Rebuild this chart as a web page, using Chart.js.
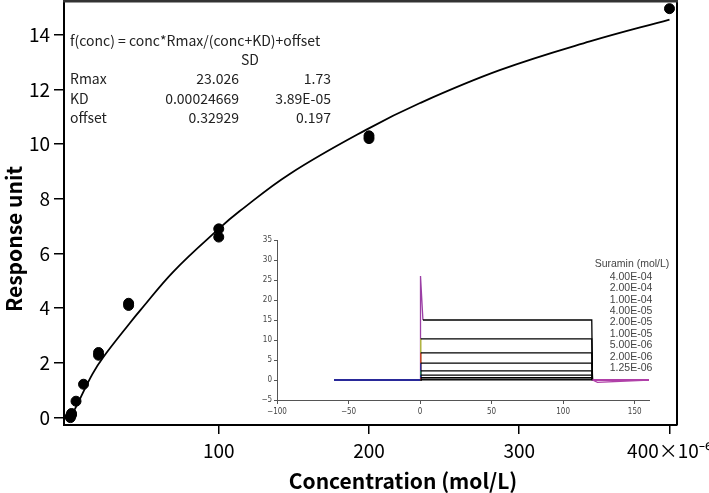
<!DOCTYPE html>
<html>
<head>
<meta charset="utf-8">
<script src="https://cdn.jsdelivr.net/npm/chart.js@4.4.1/dist/chart.umd.min.js"></script>
<style>
  body { margin: 0; background: #fff; }
  #wrap { position: relative; width: 709px; height: 493px; }
  #mainChart { position: absolute; left: 0; top: 0; }
  #insetChart { position: absolute; left: 245px; top: 228px; }
</style>
</head>
<body>
<div id="wrap">
  <canvas id="mainChart" width="709" height="493"></canvas>
  <canvas id="insetChart" width="430" height="195"></canvas>
</div>
<script>
// Binding data, concentrations in umol/L (axis shows x10^-6)
const pointConc = [1.25, 1.25, 2, 2, 5, 10, 20, 20, 40, 40, 100, 100, 200, 200, 400];
const pointResp = [0.0, 0.05, 0.1, 0.15, 0.6, 1.22, 2.38, 2.28, 4.18, 4.1, 6.9, 6.6, 10.3, 10.2, 14.95];

// Fitted curve
const fitConc = [1, 7.5, 16, 23, 41, 48, 70, 100, 114, 147, 198, 234, 287, 347, 400];
const fitResp = [-0.05, 0.67, 1.6, 2.2, 3.47, 3.94, 5.35, 6.9, 7.55, 8.9, 10.52, 11.5, 12.7, 13.75, 14.55];

const xTicks = [100, 200, 300, 400];
const yTicks = [0, 2, 4, 6, 8, 10, 12, 14];

const fitEquation = 'f(conc) = conc*Rmax/(conc+KD)+offset';
const fitParamNames = ['Rmax', 'KD', 'offset'];
const fitParamValues = ['23.026', '0.00024669', '0.32929'];
const fitParamSD = ['1.73', '3.89E-05', '0.197'];

// Inset sensorgrams
const suraminLabels = ['4.00E-04', '2.00E-04', '1.00E-04', '4.00E-05', '2.00E-05', '1.00E-05', '5.00E-06', '2.00E-06', '1.25E-06'];
const sensorTime = [
  [-60, 0, 0.3, 2, 120, 120.5, 124, 160],
  [-60, 0, 0.5, 120, 120.5, 160],
  [-60, 0, 0.5, 120, 120.5, 160],
  [-60, 0, 0.5, 120, 120.5, 160],
  [-60, 0, 0.5, 120, 120.5, 160],
  [-60, 0, 0.5, 120, 120.5, 160],
  [-60, 0, 0.5, 120, 120.5, 160],
  [-60, 0, 0.5, 120, 120.5, 160],
  [-60, 0, 0.5, 120, 120.5, 160]
];
const sensorResp = [
  [0, 0, 26, 15, 15, 0, -0.6, 0],
  [0, 0, 10.3, 10.3, 0, 0],
  [0, 0, 6.8, 6.8, 0, 0],
  [0, 0, 4.2, 4.2, 0, 0],
  [0, 0, 2.3, 2.3, 0, 0],
  [0, 0, 1.2, 1.2, 0, 0],
  [0, 0, 0.6, 0.6, 0, 0],
  [0, 0, 0.2, 0.2, 0, 0],
  [0, 0, 0.05, 0.05, 0, 0]
];
const insetXTicks = [-100, -50, 0, 50, 100, 150];
const insetYTicks = [-5, 0, 5, 10, 15, 20, 25, 30, 35];

const edgeColors = ['#9b3fa5', '#b5c832', '#c83232', '#1f2fa8', '#2e8b57', '#1f2fa8', '#c83232', '#333333', '#333333'];
const FONT = '"Noto Sans CJK JP", "Noto Sans", sans-serif';

function toPoints(xs, ys) {
  return xs.map((x, i) => ({ x, y: ys[i] }));
}

const frameAndText = {
  id: 'frameAndText',
  afterDraw(chart) {
    const { ctx, chartArea: a } = chart;
    ctx.save();
    ctx.strokeStyle = '#000';
    ctx.lineWidth = 2;
    ctx.beginPath();
    ctx.moveTo(a.right, a.top);
    ctx.lineTo(a.right, a.bottom);
    ctx.stroke();
    ctx.strokeStyle = '#333';
    ctx.lineWidth = 3;
    ctx.beginPath();
    ctx.moveTo(a.left - 1, a.top);
    ctx.lineTo(a.right + 1, a.top);
    ctx.stroke();

    // fit annotation
    ctx.fillStyle = '#222';
    ctx.font = '14px ' + FONT;
    ctx.textBaseline = 'middle';
    ctx.textAlign = 'left';
    ctx.fillText(fitEquation, 70, 41);
    ctx.textAlign = 'center';
    ctx.fillText('SD', 250, 60);
    fitParamNames.forEach((name, i) => {
      const y = 79 + i * 19.3;
      ctx.textAlign = 'left';
      ctx.fillText(name, 70, y);
      ctx.textAlign = 'right';
      ctx.fillText(fitParamValues[i], 239, y);
      ctx.fillText(fitParamSD[i], 331, y);
    });

    // axis titles
    ctx.fillStyle = '#000';
    ctx.font = 'bold 21px ' + FONT;
    ctx.textAlign = 'center';
    ctx.fillText('Concentration (mol/L)', 403, 481);
    ctx.translate(14, 239);
    ctx.rotate(-Math.PI / 2);
    ctx.fillText('Response unit', 0, 0);
    ctx.restore();
  }
};

new Chart(document.getElementById('mainChart'), {
  type: 'scatter',
  data: {
    datasets: [
      {
        data: toPoints(fitConc, fitResp),
        showLine: true,
        borderColor: '#000',
        borderWidth: 1.8,
        pointRadius: 0,
        tension: 0.4
      },
      {
        data: toPoints(pointConc, pointResp),
        backgroundColor: '#000',
        borderColor: '#000',
        pointRadius: 5,
        pointHoverRadius: 5,
        clip: false
      }
    ]
  },
  options: {
    responsive: false,
    devicePixelRatio: 1,
    animation: false,
    layout: { autoPadding: false, padding: { left: 0, right: 32, top: 1, bottom: 0 } },
    plugins: { legend: { display: false }, tooltip: { enabled: false } },
    scales: {
      x: {
        type: 'linear',
        min: -3,
        max: 405,
        afterBuildTicks: (axis) => { axis.ticks = xTicks.map(v => ({ value: v })); },
        afterFit: (axis) => { axis.height = 68; axis.paddingLeft = 0; axis.paddingRight = 0; },
        grid: { drawOnChartArea: false, tickLength: 9, color: '#000', lineWidth: 1.5 },
        border: { color: '#000', width: 2 },
        ticks: {
          color: '#000',
          font: { family: FONT, size: 19 },
          padding: 5,
          maxRotation: 0,
          callback: (v) => (v === 400 ? '400×10⁻⁶' : String(v))
        }
      },
      y: {
        min: -0.27,
        max: 15.23,
        afterBuildTicks: (axis) => { axis.ticks = yTicks.map(v => ({ value: v })); },
        afterFit: (axis) => { axis.width = 64; axis.paddingTop = 0; axis.paddingBottom = 0; },
        grid: { drawOnChartArea: false, tickLength: 10, color: '#000', lineWidth: 1.5 },
        border: { color: '#000', width: 2 },
        ticks: { color: '#000', font: { family: FONT, size: 19 }, padding: 4 }
      }
    }
  },
  plugins: [frameAndText]
});

// ---- inset ----
const insetLegend = {
  id: 'insetLegend',
  afterDraw(chart) {
    const { ctx } = chart;
    ctx.save();
    ctx.fillStyle = '#444';
    ctx.font = '10.5px "Liberation Sans", Arial, sans-serif';
    ctx.textAlign = 'center';
    ctx.textBaseline = 'middle';
    ctx.fillText('Suramin (mol/L)', 387, 36);
    suraminLabels.forEach((label, i) => {
      ctx.fillText(label, 386, 49 + i * 11.4);
    });
    ctx.restore();
  }
};

function segColor(i) {
  return (ctx) => {
    const x0 = ctx.p0.parsed.x;
    const x1 = ctx.p1.parsed.x;
    if (x1 <= 0) return '#2a2a9a';
    if (x0 === 0) return edgeColors[i];
    if (x0 >= 120.5) return '#b040a8';
    if (i === 0 && x1 <= 2) return '#9b3fa5';
    return '#000';
  };
}

const insetDatasets = sensorTime.map((times, i) => ({
  data: toPoints(times, sensorResp[i]),
  showLine: true,
  borderWidth: 1.3,
  borderColor: '#000',
  pointRadius: 0,
  segment: { borderColor: segColor(i) }
}));

new Chart(document.getElementById('insetChart'), {
  type: 'scatter',
  data: { datasets: insetDatasets.reverse() },
  options: {
    responsive: false,
    devicePixelRatio: 1,
    animation: false,
    layout: { autoPadding: false, padding: { left: 0, right: 26, top: 12, bottom: 0 } },
    plugins: { legend: { display: false }, tooltip: { enabled: false } },
    scales: {
      x: {
        type: 'linear',
        min: -100,
        max: 160,
        afterBuildTicks: (axis) => { axis.ticks = insetXTicks.map(v => ({ value: v })); },
        afterFit: (axis) => { axis.height = 23; axis.paddingLeft = 0; axis.paddingRight = 0; },
        grid: { drawOnChartArea: false, tickLength: 4, color: '#555', lineWidth: 1 },
        border: { color: '#555', width: 1 },
        ticks: {
          color: '#444',
          font: { family: '"DejaVu Sans Condensed", "Liberation Sans Narrow", sans-serif', size: 8 },
          padding: 3,
          maxRotation: 0,
          callback: (v) => String(v).replace('-', '−')
        }
      },
      y: {
        min: -5,
        max: 35,
        afterBuildTicks: (axis) => { axis.ticks = insetYTicks.map(v => ({ value: v })); },
        afterFit: (axis) => { axis.width = 32; axis.paddingTop = 0; axis.paddingBottom = 0; },
        grid: { drawOnChartArea: false, tickLength: 3, color: '#555', lineWidth: 1 },
        border: { color: '#555', width: 1 },
        ticks: {
          color: '#444',
          font: { family: '"DejaVu Sans Condensed", "Liberation Sans Narrow", sans-serif', size: 8 },
          padding: 2,
          callback: (v) => String(v).replace('-', '−')
        }
      }
    }
  },
  plugins: [insetLegend]
});
</script>
</body>
</html>
